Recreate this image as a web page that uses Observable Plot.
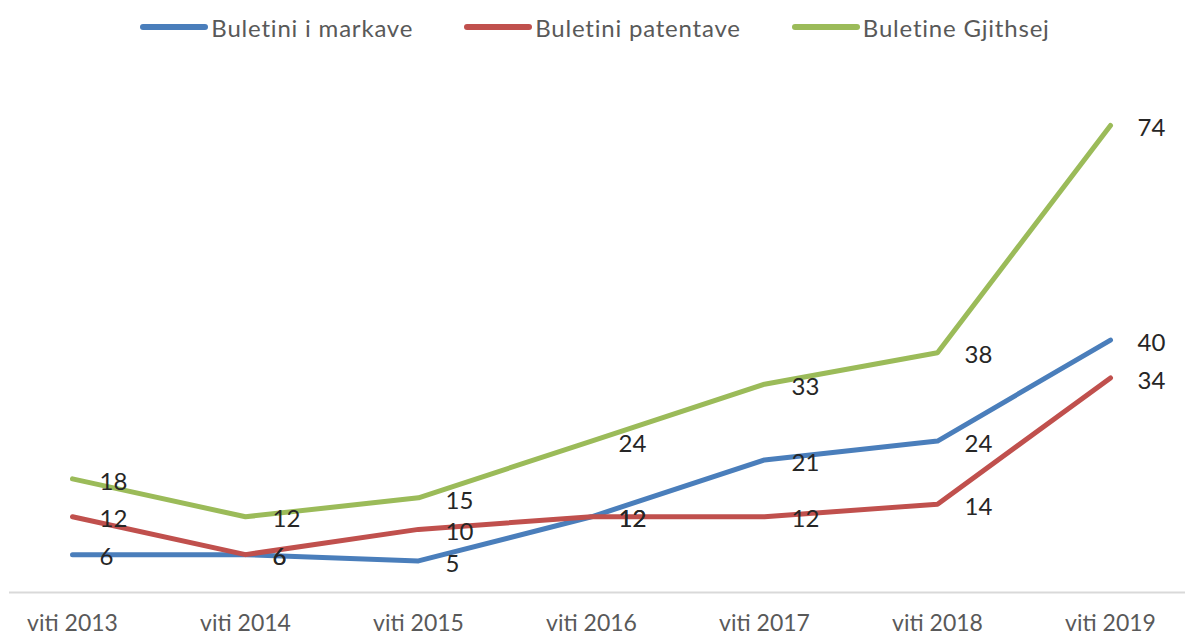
<!DOCTYPE html>
<html><head><meta charset="utf-8">
<script src="https://cdn.jsdelivr.net/npm/d3@7"></script>
<script src="https://cdn.jsdelivr.net/npm/@observablehq/plot@0.6"></script>
<style>
body{margin:0;background:#fff;}
#legend{height:50px;box-sizing:border-box;padding-top:4px;padding-left:2px;display:flex;justify-content:center;align-items:center;gap:50px;font-family:Lato,"Liberation Sans",sans-serif;font-size:24px;letter-spacing:0.8px;color:#595959;}
.item{display:flex;align-items:center;gap:2px;white-space:nowrap}
.item svg{display:block}
</style>
</head><body>
<div id="legend"></div>
<div id="chart"></div>
<script>
const years = ["viti 2013","viti 2014","viti 2015","viti 2016","viti 2017","viti 2018","viti 2019"];
const seriesNames = ["Buletini i markave","Buletini patentave","Buletine Gjithsej"];
const seriesColors = ["#4a7ebb","#c0504d","#9bbb59"];
const markave = [6,6,5,12,21,24,40];
const patentave = [12,6,10,12,12,14,34];
const gjithsej = [18,12,15,24,33,38,74];

const seriesValues = [markave, patentave, gjithsej];
const data = [];
seriesNames.forEach((name, si) => {
  seriesValues[si].forEach((v, i) => data.push({series: name, year: years[i], value: v}));
});

// legend
const legend = document.getElementById("legend");
seriesNames.forEach((name, i) => {
  const item = document.createElement("div");
  item.className = "item";
  item.innerHTML = `<svg width="70" height="10"><line x1="4" y1="5" x2="66" y2="5" stroke="${seriesColors[i]}" stroke-width="6" stroke-linecap="round"/></svg><span>${name}</span>`;
  legend.appendChild(item);
});

const chart = Plot.plot({
  width: 1187,
  height: 588,
  marginLeft: 72,
  marginRight: 77,
  marginTop: 75,
  marginBottom: 46,
  style: {fontFamily: "Lato, 'Liberation Sans', sans-serif", background: "white"},
  x: {type: "point", domain: years, padding: 0, label: null},
  y: {domain: [0, 74], axis: null},
  color: {domain: seriesNames, range: seriesColors},
  marks: [
    Plot.ruleY([0], {stroke: "#d9d9d9", strokeWidth: 2, insetLeft: -63, insetRight: -75}),
    Plot.axisX({tickSize: 0, tickPadding: 22, fontSize: 23, fill: "#595959", fontWeight: "normal", label: null, style: "letter-spacing:0.5px"}),
    Plot.lineY(data, {x: "year", y: "value", z: "series", stroke: "series", strokeWidth: 5, strokeLinecap: "round", strokeLinejoin: "round"}),
    Plot.text(data, {x: "year", y: "value", text: d => String(d.value), textAnchor: "start", dx: 27, dy: 3, fontSize: 24, fill: "#262626"})
  ]
});
document.getElementById("chart").appendChild(chart);
</script>
</body></html>
